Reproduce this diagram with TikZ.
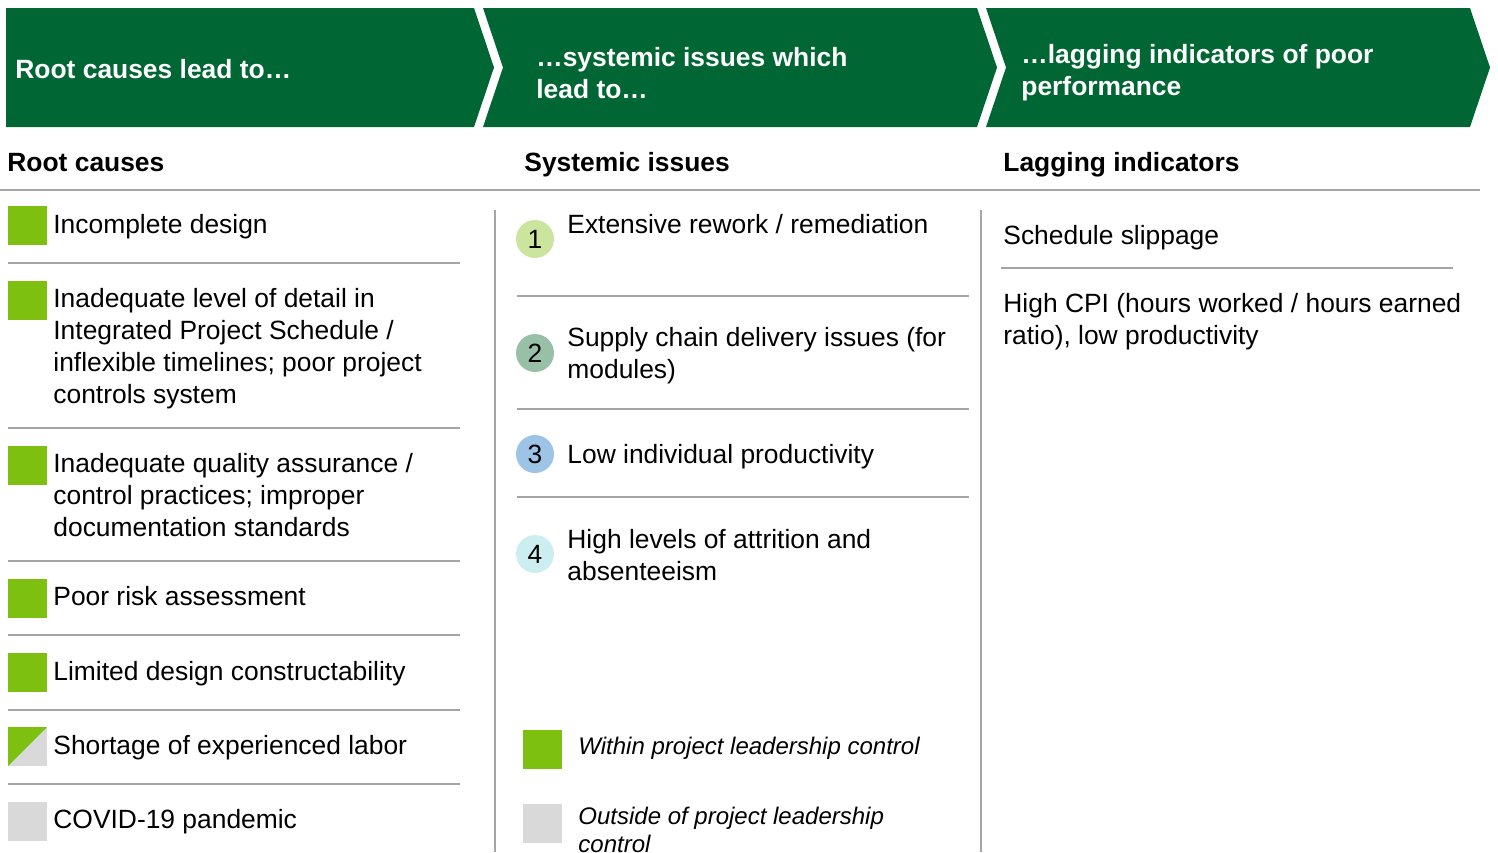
\documentclass[tikz,border=0pt]{standalone}
\usepackage{fontspec}
\setmainfont{Liberation Sans}
\usepackage{tikz}

\definecolor{hdrgreen}{RGB}{0,102,51}
\definecolor{ingreen}{RGB}{126,192,16}
\definecolor{outgray}{RGB}{217,217,217}
\definecolor{rulegray}{RGB}{165,165,165}
\definecolor{numA}{RGB}{204,229,158}
\definecolor{numB}{RGB}{152,192,166}
\definecolor{numC}{RGB}{157,195,230}
\definecolor{numD}{RGB}{204,238,240}

\tikzset{
  txt/.style={font=\fontsize{13.2}{16}\selectfont, anchor=west, inner sep=0pt, align=left},
  bold/.style={txt, font=\fontsize{13.2}{16}\selectfont\bfseries},
  legtxt/.style={txt, font=\fontsize{12}{14}\selectfont\itshape},
  rule/.style={rulegray, line width=0.7pt},
  numdot/.style={circle, minimum size=19pt, inner sep=0pt, font=\fontsize{13.2}{16}\selectfont}
}

\begin{document}
\begin{tikzpicture}[x=0.5pt, y=-0.5pt, line cap=butt]
  \useasboundingbox (0,0) rectangle (1498,852);

  % ---------------- chevrons ----------------
  \fill[hdrgreen] (6,8) -- (474,8) -- (494,67.5) -- (474,127) -- (6,127) -- cycle;
  \fill[hdrgreen] (483,8) -- (977,8) -- (997,67.5) -- (977,127) -- (483,127) -- (503,67.5) -- cycle;
  \fill[hdrgreen] (986,8) -- (1470,8) -- (1490,67.5) -- (1470,127) -- (986,127) -- (1006,67.5) -- cycle;
  \node[bold, text=white] (hdrRoot) at (15,69) {Root causes lead to…};
  \node[bold, text=white] (hdrSys) at (536,73) {…systemic issues which\\lead to…};
  \node[bold, text=white] (hdrLag) at (1021,73) {…lagging indicators of poor\\performance};

  % ---------------- column titles ----------------
  \node[bold] (titRoot) at (7,163) {Root causes};
  \node[bold] (titSys) at (524,165) {Systemic issues};
  \node[bold] (titLag) at (1003,165) {Lagging indicators};
  \draw[rule] (0,190) -- (1480,190);
  \draw[rule] (495,210) -- (495,852);
  \draw[rule] (981,210) -- (981,852);

  % ---------------- root causes ----------------
  \foreach \y in {206,281,446,579,653}
    \fill[ingreen] (8,\y) rectangle (47,\y+39);
  \fill[outgray] (8,727) rectangle (47,766);
  \fill[ingreen] (8,727) -- (47,727) -- (8,766) -- cycle;
  \fill[outgray] (8,802) rectangle (47,841);
  \foreach \y in {263,428,561,635,710,784}
    \draw[rule] (8,\y) -- (460,\y);
  \node[txt] (rc1) at (53,227) {Incomplete design};
  \node[txt] (rc2) at (53,349) {Inadequate level of detail in\\Integrated Project Schedule /\\inflexible timelines; poor project\\controls system};
  \node[txt] (rc3) at (53,495) {Inadequate quality assurance /\\control practices; improper\\documentation standards};
  \node[txt] (rc4) at (53,596) {Poor risk assessment};
  \node[txt] (rc5) at (53,674) {Limited design constructability};
  \node[txt] (rc6) at (53,748) {Shortage of experienced labor};
  \node[txt] (rc7) at (53,822) {COVID-19 pandemic};

  % ---------------- systemic issues ----------------
  \node[numdot, fill=numA] (n1) at (535,239) {1};
  \node[numdot, fill=numB] (n2) at (535,353) {2};
  \node[numdot, fill=numC] (n3) at (535,454) {3};
  \node[numdot, fill=numD] (n4) at (535,554) {4};
  \foreach \y in {296,409,497}
    \draw[rule] (517,\y) -- (969,\y);
  \node[txt] (si1) at (567,224) {Extensive rework / remediation};
  \node[txt] (si2) at (567,356) {Supply chain delivery issues (for\\modules)};
  \node[txt] (si3) at (567,457) {Low individual productivity};
  \node[txt] (si4) at (567,555) {High levels of attrition and\\absenteeism};

  % ---------------- legend ----------------
  \fill[ingreen] (523,730) rectangle (562,769);
  \fill[outgray] (523,804) rectangle (562,843);
  \node[legtxt] (legIn) at (578,748) {Within project leadership control};
  \node[legtxt] (legOut) at (578,830) {Outside of project leadership\\control};

  % ---------------- lagging indicators ----------------
  \draw[rule] (1001,268) -- (1453,268);
  \node[txt] (li1) at (1003,238) {Schedule slippage};
  \node[txt] (li2) at (1003,322) {High CPI (hours worked / hours earned\\ratio), low productivity};
\end{tikzpicture}
\end{document}
